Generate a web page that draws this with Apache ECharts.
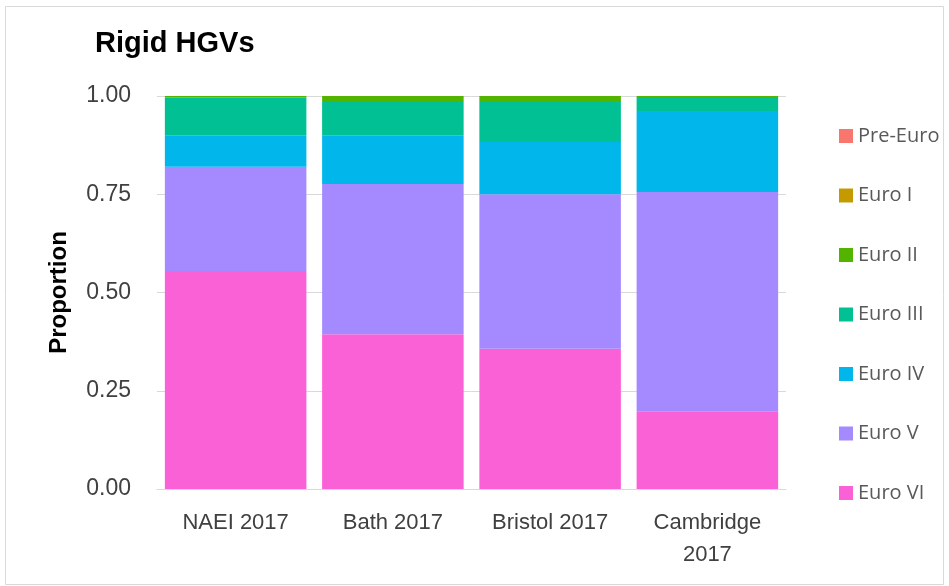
<!DOCTYPE html>
<html><head><meta charset="utf-8">
<script src="https://cdn.jsdelivr.net/npm/echarts@6/dist/echarts.min.js"></script>
<style>html,body{margin:0;padding:0;background:#fff}#c{width:949px;height:586px}</style>
</head><body><div id="c"></div>
<script>
var categories = ['NAEI 2017', 'Bath 2017', 'Bristol 2017', 'Cambridge\n2017'];
var seriesNames = ['Pre-Euro', 'Euro I', 'Euro II', 'Euro III', 'Euro IV', 'Euro V', 'Euro VI'];
var colors = ['#F8766D', '#C49A00', '#53B400', '#00C094', '#00B6EB', '#A58AFF', '#FB61D7'];
var euroVI  = [0.555, 0.394, 0.357, 0.198];
var euroV   = [0.265, 0.382, 0.393, 0.558];
var euroIV  = [0.080, 0.124, 0.133, 0.206];
var euroIII = [0.096, 0.087, 0.102, 0.033];
var euroII  = [0.004, 0.013, 0.015, 0.005];
var euroI   = [0.000, 0.000, 0.000, 0.000];
var preEuro = [0.000, 0.000, 0.000, 0.000];
var yTicks = [0, 0.25, 0.5, 0.75, 1];

var dataBySeries = {
  'Euro VI': euroVI, 'Euro V': euroV, 'Euro IV': euroIV, 'Euro III': euroIII,
  'Euro II': euroII, 'Euro I': euroI, 'Pre-Euro': preEuro
};
var stackOrder = ['Euro VI', 'Euro V', 'Euro IV', 'Euro III', 'Euro II', 'Euro I', 'Pre-Euro'];
var series = stackOrder.map(function (n) {
  return {
    name: n, type: 'bar', stack: 'total', barCategoryGap: '10%',
    itemStyle: { color: colors[seriesNames.indexOf(n)] },
    data: dataBySeries[n]
  };
});

var chart = echarts.init(document.getElementById('c'), null, { renderer: 'canvas' });
chart.setOption({
  animation: false,
  backgroundColor: '#fff',
  title: {
    text: 'Rigid HGVs', left: 90, top: 24,
    textStyle: { fontFamily: 'Liberation Sans', fontSize: 29, fontWeight: 'bold', color: '#000' }
  },
  graphic: [{
    type: 'rect', shape: { x: 5.5, y: 6.5, width: 938, height: 578 },
    style: { fill: 'none', stroke: '#d9d9d9', lineWidth: 1 }, z: -1
  }],
  legend: {
    data: seriesNames, orient: 'vertical', left: 839, top: 126,
    itemWidth: 14, itemHeight: 14, itemGap: 39.5, icon: 'rect', padding: 0,
    textStyle: { fontFamily: 'Open Sans', fontSize: 20, color: '#595959' }
  },
  grid: { left: 157, right: 163, top: 96, bottom: 97 },
  xAxis: {
    type: 'category', data: categories,
    axisLine: { lineStyle: { color: '#d9d9d9' } },
    axisTick: { show: false },
    axisLabel: { interval: 0, fontFamily: 'Liberation Sans', fontSize: 22, color: '#404040', margin: 18, lineHeight: 32 }
  },
  yAxis: {
    type: 'value', min: 0, max: 1, interval: 0.25,
    name: 'Proportion', nameLocation: 'middle', nameGap: 86, nameRotate: 90,
    nameTextStyle: { fontFamily: 'Liberation Sans', fontSize: 24, fontWeight: 'bold', color: '#000' },
    axisLine: { show: false }, axisTick: { show: false },
    splitLine: { lineStyle: { color: '#d9d9d9' } },
    axisLabel: {
      fontFamily: 'Liberation Sans', fontSize: 23, color: '#404040', margin: 26,
      formatter: function (v) { return yTicks.indexOf(v) >= 0 ? v.toFixed(2) : ''; }
    }
  },
  series: series
});
</script></body></html>
